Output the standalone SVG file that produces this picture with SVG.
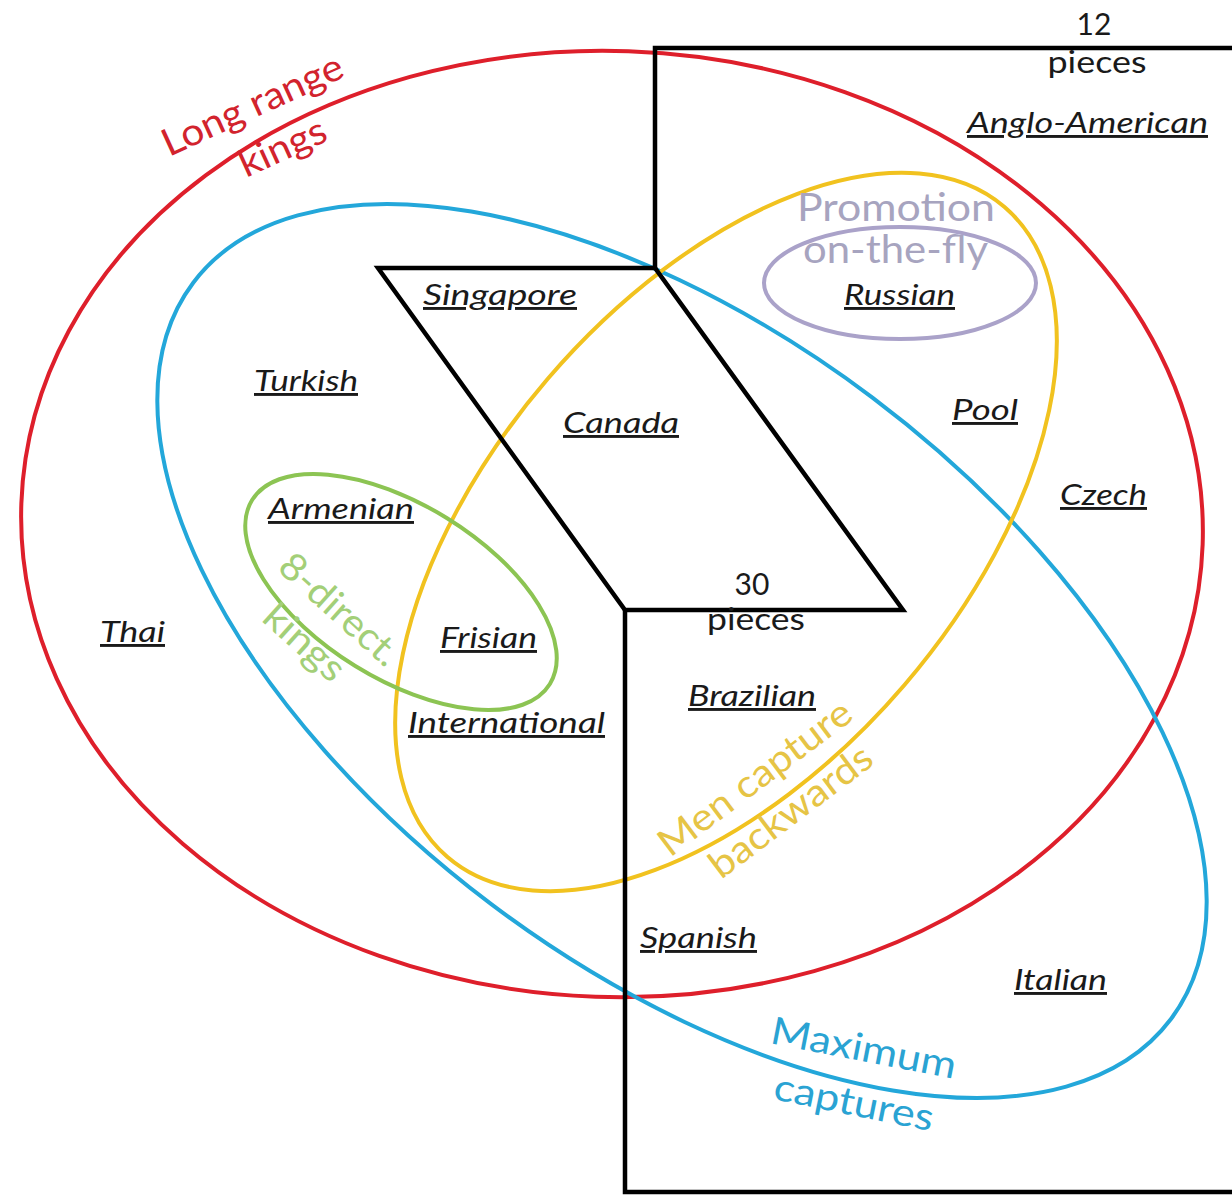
<svg xmlns="http://www.w3.org/2000/svg" width="1232" height="1195" viewBox="0 0 1232 1195">
<style>
.set{fill:none;stroke-width:4}
.red{stroke:#de1f2b}
.blue{stroke:#23a7da}
.yellow{stroke:#f1c21f}
.green{stroke:#8cc453}
.purple{stroke:#aaa2c9}
.blk{fill:none;stroke:#000;stroke-width:4.5;stroke-linejoin:miter}
.name{font-family:Lato,"Open Sans","Liberation Sans",sans-serif;font-style:italic;font-size:29px;fill:#1a1a1a;text-decoration:underline}
.num{font-family:Lato,"Open Sans","Liberation Sans",sans-serif;font-size:30px;fill:#1a1a1a}
.lbl{font-family:Lato,"Open Sans","Liberation Sans",sans-serif;font-size:38px}
</style>
<rect width="1232" height="1195" fill="#fff"/>
<g id="sets">
<g id="long-range-kings">
<ellipse class="set red" cx="612" cy="524" rx="591" ry="473" transform="rotate(2 612 524)"/>
<text class="lbl" fill="#d2232d" transform="translate(169,157) rotate(-24.5)" textLength="195" lengthAdjust="spacingAndGlyphs">Long range</text>
<text class="lbl" fill="#d2232d" transform="translate(246,178) rotate(-24.5)" textLength="92" lengthAdjust="spacingAndGlyphs">kings</text>
</g>
<g id="maximum-captures">
<ellipse class="set blue" cx="682" cy="651" rx="612" ry="317" transform="rotate(37 682 651)"/>
<text class="lbl" fill="#2aa3d3" transform="translate(769,1043) rotate(11)" textLength="188" lengthAdjust="spacingAndGlyphs">Maximum</text>
<text class="lbl" fill="#2aa3d3" transform="translate(772,1099) rotate(11.5)" textLength="162" lengthAdjust="spacingAndGlyphs">captures</text>
</g>
<g id="men-capture-backwards">
<ellipse class="set yellow" cx="726" cy="532" rx="428" ry="235" transform="rotate(-49.4 726 532)"/>
<text class="lbl" fill="#e6c445" transform="translate(670,858) rotate(-37)" textLength="232" lengthAdjust="spacingAndGlyphs">Men capture</text>
<text class="lbl" fill="#e6c445" transform="translate(721,880) rotate(-37)" textLength="194" lengthAdjust="spacingAndGlyphs">backwards</text>
</g>
<g id="eight-direction-kings">
<ellipse class="set green" cx="401" cy="592" rx="175" ry="87" transform="rotate(31.7 401 592)"/>
<text class="lbl" fill="#a3cf78" text-anchor="middle" transform="translate(331,619) rotate(42)" textLength="148" lengthAdjust="spacingAndGlyphs">8-direct.</text>
<text class="lbl" fill="#a3cf78" text-anchor="middle" transform="translate(296,652) rotate(42)" textLength="96" lengthAdjust="spacingAndGlyphs">kings</text>
</g>
<g id="promotion-on-the-fly">
<ellipse class="set purple" cx="900" cy="283" rx="136" ry="56"/>
<text class="lbl" fill="#a7a4bf" x="797" y="221" font-size="34" textLength="198" lengthAdjust="spacingAndGlyphs">Promotion</text>
<text class="lbl" fill="#a7a4bf" x="803" y="263" font-size="34" textLength="185" lengthAdjust="spacingAndGlyphs">on-the-fly</text>
</g>
</g>
<g id="board-sizes">
<g id="pieces-12">
<path class="blk" d="M1232,48 H655 V268"/>
<text class="num" x="1094" y="35" text-anchor="middle">12</text>
<text class="num" x="1097" y="73" text-anchor="middle" textLength="99" lengthAdjust="spacingAndGlyphs">pieces</text>
</g>
<g id="pieces-30">
<path class="blk" d="M378,268 H655 L903,610 H625 Z"/>
<path class="blk" d="M625,610 V1192 H1232"/>
<text class="num" x="752" y="595" text-anchor="middle">30</text>
<text class="num" x="756" y="630" text-anchor="middle" textLength="98" lengthAdjust="spacingAndGlyphs">pieces</text>
</g>
</g>
<g id="variants">
<text id="anglo-american" class="name" x="967" y="133" textLength="241" lengthAdjust="spacingAndGlyphs">Anglo-American</text>
<text id="singapore" class="name" x="423" y="305" textLength="154" lengthAdjust="spacingAndGlyphs">Singapore</text>
<text id="russian" class="name" x="844" y="305" textLength="111" lengthAdjust="spacingAndGlyphs">Russian</text>
<text id="turkish" class="name" x="254" y="391" textLength="104" lengthAdjust="spacingAndGlyphs">Turkish</text>
<text id="canada" class="name" x="563" y="433" textLength="116" lengthAdjust="spacingAndGlyphs">Canada</text>
<text id="pool" class="name" x="952" y="420" textLength="66" lengthAdjust="spacingAndGlyphs">Pool</text>
<text id="czech" class="name" x="1060" y="505" textLength="87" lengthAdjust="spacingAndGlyphs">Czech</text>
<text id="armenian" class="name" x="268" y="519" textLength="146" lengthAdjust="spacingAndGlyphs">Armenian</text>
<text id="thai" class="name" x="100" y="642" textLength="65" lengthAdjust="spacingAndGlyphs">Thai</text>
<text id="frisian" class="name" x="440" y="648" textLength="97" lengthAdjust="spacingAndGlyphs">Frisian</text>
<text id="international" class="name" x="408" y="733" textLength="197" lengthAdjust="spacingAndGlyphs">International</text>
<text id="brazilian" class="name" x="688" y="706" textLength="128" lengthAdjust="spacingAndGlyphs">Brazilian</text>
<text id="spanish" class="name" x="640" y="948" textLength="117" lengthAdjust="spacingAndGlyphs">Spanish</text>
<text id="italian" class="name" x="1014" y="990" textLength="93" lengthAdjust="spacingAndGlyphs">Italian</text>
</g>
</svg>
